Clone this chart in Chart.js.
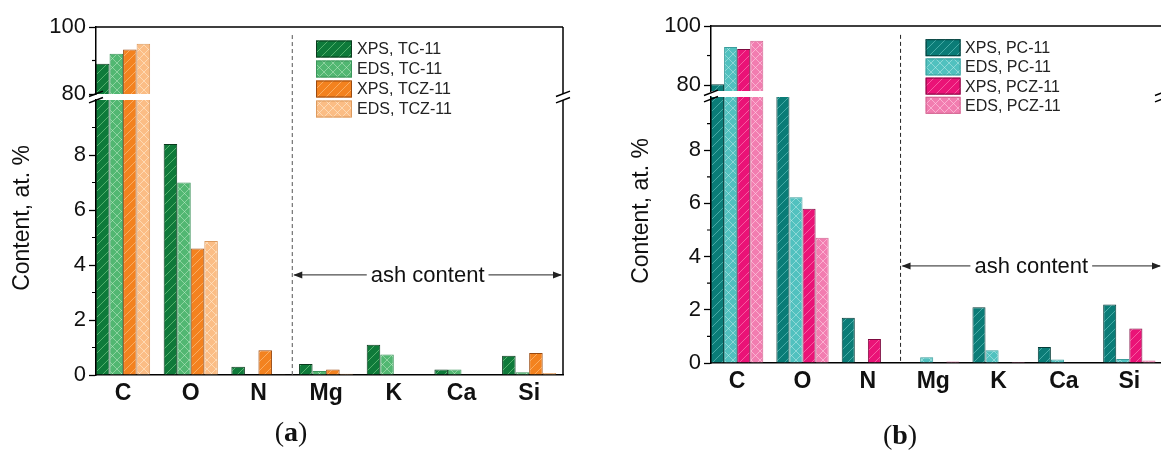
<!DOCTYPE html>
<html>
<head>
<meta charset="utf-8">
<script src="https://cdn.jsdelivr.net/npm/chart.js@4/dist/chart.umd.min.js"></script>
<style>
  html, body { margin: 0; padding: 0; background: #fff; overflow: hidden; }
  #pagina { position: relative; width: 1161px; height: 450px; overflow: hidden; }
  .painel { position: absolute; top: 0; height: 450px; }
  .painel canvas { position: absolute; left: 0; top: 0; }
</style>
</head>
<body>
<div id="pagina">
  <div class="painel" style="left:0;width:580px">
    <canvas id="aAlto" width="580" height="450"></canvas>
    <canvas id="aBaixo" width="580" height="450"></canvas>
  </div>
  <div class="painel" style="left:580px;width:590px">
    <canvas id="bAlto" width="590" height="450"></canvas>
    <canvas id="bBaixo" width="590" height="450"></canvas>
  </div>
</div>
<script>
// elementos no eixo x
const elementos = ['C', 'O', 'N', 'Mg', 'K', 'Ca', 'Si'];

// painel (a)
const xpsTC  = [89.0, 8.4, 0.3, 0.4, 1.1, 0.2, 0.7];
const edsTC  = [92.0, 7.0, 0, 0.15, 0.75, 0.2, 0.1];
const xpsTCZ = [93.3, 4.6, 0.9, 0.2, 0, 0, 0.8];
const edsTCZ = [95.0, 4.87, 0.03, 0.05, 0, 0, 0.07];

// painel (b)
const xpsPC  = [80.3, 11.5, 1.7, 0, 2.1, 0.6, 2.2];
const edsPC  = [92.9, 6.23, 0, 0.22, 0.48, 0.13, 0.15];
const xpsPCZ = [92.2, 5.8, 0.9, 0, 0, 0, 1.3];
const edsPCZ = [95.0, 4.71, 0, 0.06, 0.04, 0, 0.09];

// eixo y quebrado
const ticksBaixo = [0, 2, 4, 6, 8];
const menoresBaixo = [1, 3, 5, 7, 9];
const ticksAlto = [80, 100];
const menoresAlto = [90];

// anotacao "ash content"
const divisaoCinzas = 2.5;
const faixaCinzas = [2.5, 6.5];
const alturaSetaA = 3.64;
const alturaSetaB = 3.65;

const FONTE = '"Liberation Sans", Arial, sans-serif';

function hachura(cor, linha, cruzada) {
    const c = document.createElement('canvas');
    c.width = 9; c.height = 9;
    const g = c.getContext('2d');
    g.fillStyle = cor;
    g.fillRect(0, 0, 9, 9);
    g.strokeStyle = linha;
    g.lineWidth = 1;
    g.beginPath();
    g.moveTo(0, 9); g.lineTo(9, 0);
    g.moveTo(-1, 1); g.lineTo(1, -1);
    g.moveTo(8, 10); g.lineTo(10, 8);
    if (cruzada) {
        g.moveTo(0, 0); g.lineTo(9, 9);
        g.moveTo(-1, 8); g.lineTo(1, 10);
        g.moveTo(8, -1); g.lineTo(10, 1);
    }
    g.stroke();
    return g.createPattern(c, 'repeat');
}

const seriesA = [
    { nome: 'XPS, TC-11', valores: xpsTC, padrao: hachura('#0f7a3a', 'rgba(140,220,150,0.55)', false), borda: '#0a3a1d' },
    { nome: 'EDS, TC-11', valores: edsTC, padrao: hachura('#52b772', 'rgba(200,240,205,0.5)', true), borda: '#3b935a' },
    { nome: 'XPS, TCZ-11', valores: xpsTCZ, padrao: hachura('#f3821f', 'rgba(255,200,140,0.6)', false), borda: '#9a4a10' },
    { nome: 'EDS, TCZ-11', valores: edsTCZ, padrao: hachura('#fbbd85', 'rgba(255,235,210,0.6)', true), borda: '#dc9a5e' }
];

const seriesB = [
    { nome: 'XPS, PC-11', valores: xpsPC, padrao: hachura('#0b7c77', 'rgba(120,210,205,0.55)', false), borda: '#053b38' },
    { nome: 'EDS, PC-11', valores: edsPC, padrao: hachura('#51c1bf', 'rgba(200,240,238,0.5)', true), borda: '#3a9e9c' },
    { nome: 'XPS, PCZ-11', valores: xpsPCZ, padrao: hachura('#ea1377', 'rgba(255,140,190,0.6)', false), borda: '#7d0a40' },
    { nome: 'EDS, PCZ-11', valores: edsPCZ, padrao: hachura('#f27db0', 'rgba(255,210,230,0.6)', true), borda: '#d0638f' }
];

function pluginMoldura(menores, topo) {
    return {
        id: 'moldura',
        afterDraw(chart) {
            const ctx = chart.ctx;
            const a = chart.chartArea;
            const y = chart.scales.y;
            ctx.save();
            ctx.strokeStyle = '#000';
            ctx.lineWidth = 1.5;
            ctx.beginPath();
            ctx.moveTo(a.right, a.top);
            ctx.lineTo(a.right, a.bottom);
            if (topo) {
                ctx.moveTo(a.left, a.top);
                ctx.lineTo(a.right, a.top);
            }
            ctx.stroke();
            ctx.lineWidth = 1.2;
            ctx.beginPath();
            menores.forEach(v => {
                const py = y.getPixelForValue(v);
                ctx.moveTo(a.left, py);
                ctx.lineTo(a.left - 4, py);
            });
            ctx.stroke();
            ctx.restore();
        }
    };
}

function quebra(ctx, cx, cy) {
    ctx.beginPath();
    [-3.2, 3.2].forEach(d => {
        ctx.moveTo(cx - 7, cy + d + 2.7);
        ctx.lineTo(cx + 7, cy + d - 2.7);
    });
    ctx.stroke();
}

function pluginExtras(cfg) {
    return {
        id: 'extras',
        afterDraw(chart) {
            const ctx = chart.ctx;
            const x = chart.scales.x;
            const y = chart.scales.y;
            const alto = cfg.alto();
            const aA = alto.chartArea;
            const aB = chart.chartArea;
            ctx.save();

            // linha tracejada entre N e Mg
            const xd = x.getPixelForValue(divisaoCinzas);
            ctx.strokeStyle = cfg.corTracejado;
            ctx.lineWidth = 1;
            ctx.setLineDash([4, 3]);
            ctx.beginPath();
            ctx.moveTo(xd, alto.scales.y.getPixelForValue(cfg.topoTracejado));
            ctx.lineTo(xd, aB.bottom);
            ctx.stroke();
            ctx.setLineDash([]);

            // seta "ash content"
            const ya = y.getPixelForValue(cfg.alturaSeta);
            const x0 = x.getPixelForValue(faixaCinzas[0]);
            const x1 = x.getPixelForValue(faixaCinzas[1]);
            const xm = (x0 + x1) / 2;
            ctx.font = '22px ' + FONTE;
            const w = ctx.measureText('ash content').width;
            ctx.strokeStyle = '#222';
            ctx.beginPath();
            ctx.moveTo(x0 + 2, ya); ctx.lineTo(xm - w / 2 - 4, ya);
            ctx.moveTo(xm + w / 2 + 4, ya); ctx.lineTo(x1 - 2, ya);
            ctx.stroke();
            ctx.fillStyle = '#222';
            ctx.beginPath();
            ctx.moveTo(x0 + 1, ya); ctx.lineTo(x0 + 10, ya - 3.5); ctx.lineTo(x0 + 10, ya + 3.5); ctx.closePath();
            ctx.moveTo(x1 - 1, ya); ctx.lineTo(x1 - 10, ya - 3.5); ctx.lineTo(x1 - 10, ya + 3.5); ctx.closePath();
            ctx.fill();
            ctx.fillStyle = '#111';
            ctx.textAlign = 'center';
            ctx.textBaseline = 'middle';
            ctx.fillText('ash content', xm, ya + 1);

            // marcas de quebra do eixo
            const cy = (aA.bottom + aB.top) / 2 + cfg.ajusteQuebra;
            ctx.strokeStyle = '#000';
            ctx.lineWidth = 1.5;
            quebra(ctx, aB.left, cy);
            quebra(ctx, aB.right, cy);

            // legenda
            const lg = cfg.legenda;
            ctx.font = '16px ' + FONTE;
            ctx.textAlign = 'left';
            cfg.series.forEach((s, i) => {
                const yc = lg.y[i];
                ctx.fillStyle = s.padrao;
                ctx.fillRect(lg.x, yc - lg.h / 2, lg.w, lg.h);
                ctx.strokeStyle = s.borda;
                ctx.lineWidth = 1;
                ctx.strokeRect(lg.x + 0.5, yc - lg.h / 2 + 0.5, lg.w - 1, lg.h - 1);
                ctx.fillStyle = '#222';
                ctx.fillText(s.nome, lg.tx, yc + 1);
            });

            // titulo do eixo y
            ctx.save();
            ctx.translate(cfg.titulo[0], cfg.titulo[1]);
            ctx.rotate(-Math.PI / 2);
            ctx.font = '23px ' + FONTE;
            ctx.fillStyle = '#111';
            ctx.textAlign = 'center';
            ctx.fillText('Content, at. %', 0, 0);
            ctx.restore();

            // rotulo do painel
            const fr = '28px "Liberation Serif", "DejaVu Serif", serif';
            const fb = 'bold 28px "Liberation Serif", "DejaVu Serif", serif';
            ctx.font = fr;
            const wp = ctx.measureText('(').width;
            const wp2 = ctx.measureText(')').width;
            ctx.font = fb;
            const wl = ctx.measureText(cfg.letra).width;
            let px = cfg.rotulo[0] - (wp + wl + wp2) / 2;
            ctx.textAlign = 'left';
            ctx.fillStyle = '#111';
            ctx.font = fr; ctx.fillText('(', px, cfg.rotulo[1]); px += wp;
            ctx.font = fb; ctx.fillText(cfg.letra, px, cfg.rotulo[1]); px += wl;
            ctx.font = fr; ctx.fillText(')', px, cfg.rotulo[1]);

            ctx.restore();
        }
    };
}

function criarGrafico(id, series, eixoY, area, plugins) {
    return new Chart(document.getElementById(id), {
        type: 'bar',
        data: {
            datasets: series.map(s => ({
                label: s.nome,
                data: s.valores.map((v, i) => ({ x: i, y: v })),
                backgroundColor: s.padrao,
                borderColor: s.borda,
                borderWidth: 1,
                clip: 0,
                categoryPercentage: 0.8,
                barPercentage: 1
            }))
        },
        options: {
            responsive: false,
            animation: false,
            devicePixelRatio: 1,
            layout: { padding: area.padding },
            plugins: { legend: { display: false }, tooltip: { enabled: false } },
            scales: {
                x: {
                    type: 'linear',
                    min: -0.4,
                    max: 6.5,
                    offset: false,
                    display: area.mostrarX,
                    afterBuildTicks: s => { s.ticks = elementos.map((e, i) => ({ value: i })); },
                    afterFit: s => { if (area.mostrarX) s.height = area.alturaX; },
                    ticks: {
                        autoSkip: false,
                        maxRotation: 0,
                        padding: area.padX || 5,
                        color: '#111',
                        font: { family: FONTE, size: 23, weight: 'bold' },
                        callback: v => elementos[v]
                    },
                    grid: { display: false, drawTicks: false, offset: false },
                    border: { display: true, color: '#000', width: 1.5 }
                },
                y: {
                    min: eixoY.min,
                    max: eixoY.max,
                    afterBuildTicks: s => { s.ticks = eixoY.maiores.map(v => ({ value: v })); },
                    afterFit: s => { s.width = area.larguraY; },
                    ticks: {
                        autoSkip: false,
                        padding: 3,
                        color: '#111',
                        font: { family: FONTE, size: 22 },
                        callback: v => String(v)
                    },
                    grid: { drawOnChartArea: false, drawTicks: true, tickLength: 7, tickWidth: 1.3, tickColor: '#000' },
                    border: { color: '#000', width: 1.5 }
                }
            }
        },
        plugins: plugins
    });
}

// ---- painel (a)
const graficoAAlto = criarGrafico('aAlto', seriesA,
    { min: 80, max: 100, maiores: ticksAlto },
    { padding: { top: 27, bottom: 356, left: 0, right: 17 }, mostrarX: false, larguraY: 96 },
    [pluginMoldura(menoresAlto, true)]);

const graficoABaixo = criarGrafico('aBaixo', seriesA,
    { min: 0, max: 10, maiores: ticksBaixo },
    { padding: { top: 100, bottom: 0, left: 0, right: 17 }, mostrarX: true, alturaX: 75, padX: 5, larguraY: 96 },
    [pluginMoldura(menoresBaixo, false), pluginExtras({
        alto: () => graficoAAlto,
        series: seriesA,
        corTracejado: '#555',
        topoTracejado: 97.6,
        alturaSeta: alturaSetaA,
        ajusteQuebra: 0,
        legenda: { x: 316, y: [49, 69, 89, 109], w: 36, h: 17, tx: 357 },
        titulo: [23, 218],
        rotulo: [291, 434],
        letra: 'a'
    })]);

// ---- painel (b)
const graficoBAlto = criarGrafico('bAlto', seriesB,
    { min: 78, max: 100, maiores: ticksAlto },
    { padding: { top: 26, bottom: 359, left: 0, right: 8 }, mostrarX: false, larguraY: 131 },
    [pluginMoldura(menoresAlto, true)]);

const graficoBBaixo = criarGrafico('bBaixo', seriesB,
    { min: 0, max: 10, maiores: ticksBaixo },
    { padding: { top: 97, bottom: 0, left: 0, right: 8 }, mostrarX: true, alturaX: 87, padX: 5, larguraY: 131 },
    [pluginMoldura(menoresBaixo, false), pluginExtras({
        alto: () => graficoBAlto,
        series: seriesB,
        corTracejado: '#222',
        topoTracejado: 97,
        alturaSeta: alturaSetaB,
        ajusteQuebra: 2,
        legenda: { x: 345.6, y: [47.7, 66.9, 86.1, 105.3], w: 35, h: 17, tx: 385 },
        titulo: [62, 211],
        rotulo: [320, 437],
        letra: 'b'
    })]);
</script>
</body>
</html>
